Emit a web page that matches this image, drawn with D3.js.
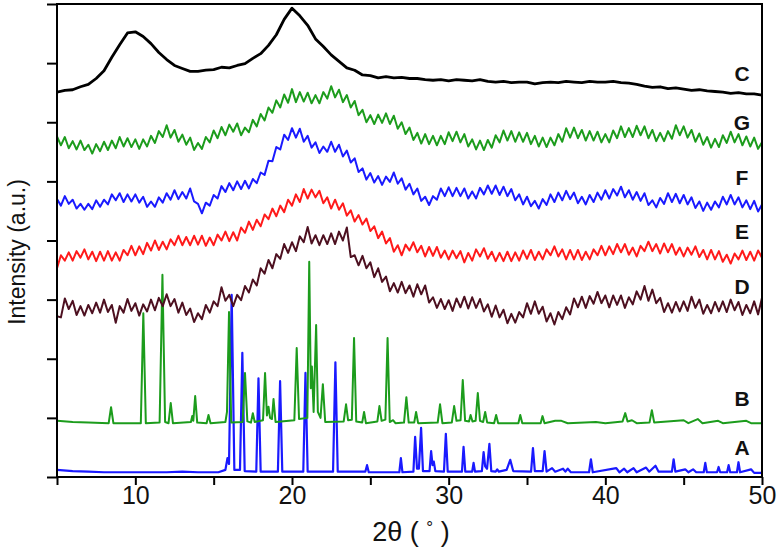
<!DOCTYPE html>
<html>
<head>
<meta charset="utf-8">
<script src="https://cdn.jsdelivr.net/npm/d3@7"></script>
<style>
  body { margin: 0; background: #fff; }
  svg text { font-family: "Liberation Sans", Arial, sans-serif; }
</style>
</head>
<body>
<svg id="chart" width="779" height="556"></svg>
<script>
// ---- data (offset intensities, arbitrary units) ----
const xTicks = [5, 10, 15, 20, 25, 30, 35, 40, 45, 50];
const xTickLabels = [10, 20, 30, 40, 50];
const yTicks = [0, 100, 200, 300, 400, 500, 600, 700, 800];

const scanStart = 5;      // 2θ of first sample
const scanStepC = 0.5;    // C scan step
const scanStep = 0.25;    // G, F, E, D scan step

const curveC = [651,654,655,660,664,674,687,710,731,751,753,745,733,718,706,696,691,686,686,688,
  689,693,692,696,699,708,716,730,748,774,793,780,764,741,728,714,703,692,688,680,
  679,675,677,675,676,674,674,672,671,672,670,672,671,670,672,669,668,669,667,668,
  668,665,667,668,667,669,668,667,669,668,668,669,667,666,664,661,659,660,657,658,
  656,654,655,653,652,651,649,650,648,648,646];

const curveG = [576,561,575,556,568,554,569,553,562,547,563,551,567,553,569,556,575,559,573,558,
  571,555,571,559,577,565,585,575,595,574,587,567,579,562,574,553,565,555,575,566,
  586,573,592,578,596,584,598,578,591,583,604,593,614,603,625,616,637,625,647,633,
  656,634,651,635,650,632,646,632,651,640,661,642,655,634,646,625,636,612,621,600,
  612,597,613,599,615,597,611,589,600,580,591,570,582,564,580,563,577,561,577,563,
  583,568,584,566,580,559,571,554,569,553,570,557,578,566,586,569,585,567,583,567,
  582,563,577,559,574,558,574,561,580,567,590,574,591,573,587,569,585,569,584,566,
  580,566,586,573,593,575,590,575,594,578,593,573,587,568,582,568,585,572,595,578,
  593,574,587,567,581,562,575,557,572,558,578,565,584,566,580,561,576,559,574,555,566];

const curveF = [470,459,475,462,469,454,462,452,462,453,468,457,469,461,478,468,480,465,478,466,
  478,464,474,457,466,457,473,464,480,469,485,470,482,471,488,466,462,446,464,459,
  477,471,492,482,497,485,500,487,501,488,504,497,515,511,535,534,558,554,579,570,
  590,574,589,567,577,557,566,548,559,550,567,550,562,542,552,532,539,516,522,503,
  514,498,509,494,508,499,515,496,505,486,496,478,488,467,474,460,475,469,488,475,
  490,475,489,475,488,471,483,471,489,478,493,479,493,477,491,475,487,468,478,461,
  474,458,467,454,470,460,478,465,481,468,484,470,481,463,474,461,477,465,481,469,
  485,471,487,476,491,473,485,469,482,467,480,460,468,456,472,462,480,465,479,463,
  477,461,473,455,466,450,464,452,466,456,474,461,477,461,473,456,468,453,467,449,461];

const curveE = [353,375,366,380,366,382,371,385,368,381,365,381,366,382,366,380,366,384,375,391,
  375,390,377,396,383,400,384,398,385,402,392,408,392,406,392,408,393,408,391,405,
  392,410,400,415,399,414,400,422,413,432,418,435,424,444,436,454,441,459,448,469,
  459,478,465,487,471,486,473,484,463,473,454,469,452,463,442,451,432,443,427,437,
  416,424,404,415,395,404,381,392,375,393,383,397,380,391,373,389,374,389,371,383,
  368,383,370,382,363,379,366,385,373,387,369,381,365,379,365,381,365,380,366,383,
  369,384,367,381,368,385,375,390,373,385,368,384,368,384,367,381,368,385,375,391,
  375,390,377,394,380,394,376,388,373,391,382,398,382,394,378,395,380,394,376,388,
  373,388,376,390,372,384,368,384,368,382,364,376,361,378,368,383,367,381,366,383,371];

const curveD = [272,270,302,284,298,274,289,273,291,277,295,278,300,279,291,261,289,278,301,281,
  294,273,292,280,300,282,303,289,309,289,301,278,295,274,285,262,277,267,291,278,
  297,289,321,298,308,289,308,299,323,312,334,324,353,344,367,353,377,369,394,379,
  397,382,407,397,423,395,409,392,409,394,412,394,415,400,422,372,375,358,374,353,
  363,338,353,330,339,314,328,312,330,311,324,305,326,309,324,295,304,286,301,284,
  299,281,302,287,305,285,304,286,301,280,292,271,290,270,283,260,276,261,279,270,
  294,276,297,276,288,263,277,258,279,267,287,275,302,287,305,286,306,293,313,294,
  307,287,307,291,307,286,304,292,314,300,323,298,317,294,303,279,294,278,296,280,
  297,281,305,286,300,276,291,277,296,280,297,279,300,282,296,274,291,277,297,275,303];

// crystalline patterns: [2θ, intensity]
const curveB = [[5,95],[6,93],[7,92],[8.3,91],[8.45,118],[8.6,91],[10.35,91],[10.51,277],[10.67,91],
  [11.55,92],[11.73,342],[11.9,93],[12.12,91],[12.26,125],[12.4,91],[13.55,93],[13.63,103],[13.7,95],
  [13.82,137],[13.95,92],[14.55,91],[14.67,105],[14.8,91],[15.75,93],[15.85,110],[15.98,279],[16.12,92],
  [16.85,93],[17.0,176],[17.15,94],[17.38,92],[17.5,108],[17.62,93],[18.15,96],[18.28,176],[18.4,104],
  [18.5,119],[18.6,100],[18.72,98],[18.82,132],[18.95,93],[20.15,96],[20.3,218],[20.45,98],[20.98,100],
  [21.1,364],[21.2,150],[21.27,187],[21.38,110],[21.54,257],[21.65,110],[21.82,100],[21.97,157],[22.12,93],
  [23.3,94],[23.45,123],[23.58,96],[23.82,97],[23.96,235],[24.1,94],[24.48,92],[24.6,110],[24.72,91],
  [25.45,94],[25.58,120],[25.72,95],[25.96,97],[26.1,235],[26.24,93],[26.45,96],[26.6,91],[27.15,92],
  [27.3,135],[27.45,92],[27.8,92],[27.92,110],[28.05,91],[29.3,92],[29.45,123],[29.6,91],[30.2,92],
  [30.35,120],[30.5,95],[30.76,96],[30.9,164],[31.05,95],[31.3,94],[31.4,105],[31.52,94],[31.72,95],
  [31.86,142],[32.0,95],[32.2,93],[32.33,110],[32.46,92],[32.9,91],[33.03,105],[33.16,91],[34.45,91],
  [34.57,105],[34.7,91],[35.87,91],[35.99,103],[36.12,91],[36.8,95],[37.2,95],[37.6,91],[39.4,93],
  [40.0,91],[41.1,94],[41.27,108],[41.42,94],[41.7,96],[42.0,91],[42.82,92],[42.97,113],[43.12,92],
  [45.0,96],[45.3,91],[45.9,98],[46.2,91],[47.2,95],[47.5,91],[49.0,95],[49.3,91],[50,91]];

const curveA = [[5,12],[6,10],[7,9],[8,8],[9,8],[10,8],[11,8],[12,8],[13,9],[14,8],[15.3,8],[15.75,12],
  [15.88,32],[15.98,22],[16.15,308],[16.32,12],[16.68,12],[16.83,210],[16.98,10],[17.72,9],[17.86,167],
  [18.0,9],[19.1,9],[19.24,162],[19.38,9],[20.72,9],[20.86,176],[21.0,9],[22.62,9],[22.77,194],[22.92,9],
  [24.68,9],[24.79,20],[24.9,8],[26.85,8],[26.95,32],[27.05,8],[27.75,9],[27.86,68],[27.98,14],[28.1,14],
  [28.24,83],[28.36,10],[28.78,10],[28.88,44],[28.97,20],[29.05,26],[29.15,10],[29.7,9],[29.82,73],
  [29.94,9],[30.85,9],[30.95,51],[31.06,9],[31.5,9],[31.59,24],[31.68,9],[32.12,10],[32.23,42],[32.33,18],
  [32.45,14],[32.6,56],[32.72,10],[33.0,9],[33.1,13],[33.2,9],[33.7,12],[33.93,29],[34.12,10],[35.26,9],
  [35.38,49],[35.5,10],[36.0,10],[36.12,44],[36.25,9],[36.6,15],[36.8,9],[37.3,14],[37.45,9],[37.6,14],
  [37.8,8],[38.96,8],[39.08,30],[39.2,8],[40.7,15],[40.9,8],[41.2,14],[41.4,8],[41.8,15],[42.0,8],
  [42.6,16],[42.8,9],[43.2,19],[43.4,9],[44.25,9],[44.36,30],[44.47,9],[45.1,13],[45.3,8],[45.6,13],
  [45.8,8],[46.28,8],[46.38,24],[46.48,8],[47.13,8],[47.23,17],[47.33,8],[47.77,8],[47.87,20],[47.97,8],
  [48.4,8],[48.5,25],[48.6,8],[49.3,13],[49.5,7],[50,7]];

const seriesNames = ['C', 'G', 'F', 'E', 'D', 'B', 'A'];

// ---- layout / style ----
const W = 779, H = 556;
const plotLeft = 57, plotRight = 762, plotTop = 4, plotBottom = 477;

const toPairs = (arr, step) => arr.map((v, i) => [scanStart + i * step, v]);

// dy = label offset (px) above the trace's last point
const series = [
  {name: seriesNames[0], pts: toPairs(curveC, scanStepC), color: '#000000', width: 2.8, dy: -22},
  {name: seriesNames[1], pts: toPairs(curveG, scanStep), color: '#1c9c1c', width: 2, dy: -20},
  {name: seriesNames[2], pts: toPairs(curveF, scanStep), color: '#1a1aff', width: 2, dy: -27},
  {name: seriesNames[3], pts: toPairs(curveE, scanStep), color: '#ff1a1a', width: 2, dy: -26},
  {name: seriesNames[4], pts: toPairs(curveD, scanStep), color: '#4d1020', width: 2, dy: -11},
  {name: seriesNames[5], pts: curveB, color: '#1c9c1c', width: 2, dy: -25},
  {name: seriesNames[6], pts: curveA, color: '#1a1aff', width: 2.2, dy: -25}
];

const xScale = d3.scaleLinear().domain([5, 50]).range([plotLeft, plotRight]);
const yScale = d3.scaleLinear().domain([0, 800]).range([plotBottom, plotTop]);

const svg = d3.select('#chart');

svg.append('defs').append('clipPath').attr('id', 'plot').
append('rect').attr('x', plotLeft).attr('y', plotTop).
attr('width', plotRight - plotLeft).attr('height', plotBottom - plotTop);

const line = d3.line().x(d => xScale(d[0])).y(d => yScale(d[1]));

const g = svg.append('g').attr('clip-path', 'url(#plot)');

// draw bottom-most first so the amorphous traces sit on top
series.slice().reverse().forEach(s => {
  g.append('path').
  datum(s.pts).
  attr('d', line).
  attr('fill', 'none').
  attr('stroke', s.color).
  attr('stroke-width', s.width).
  attr('stroke-linejoin', 'round');
});

// axes
const xAxis = d3.axisBottom(xScale).tickValues(xTicks).tickSize(8).tickSizeOuter(0).
tickFormat(d => xTickLabels.includes(d) ? d : '');
const xg = svg.append('g').attr('transform', 'translate(0,' + plotBottom + ')').call(xAxis);
xg.select('.domain').remove();
xg.selectAll('line').attr('stroke', '#000').attr('stroke-width', 2);
xg.selectAll('text').attr('fill', '#111').style('font-size', '25px').attr('y', 9);

const yAxis = d3.axisLeft(yScale).tickValues(yTicks).tickSize(10).tickSizeOuter(0).tickFormat('');
const yg = svg.append('g').attr('transform', 'translate(' + plotLeft + ',0)').call(yAxis);
yg.select('.domain').remove();
yg.selectAll('line').attr('stroke', '#000').attr('stroke-width', 2);

svg.append('rect').
attr('x', plotLeft).attr('y', plotTop).
attr('width', plotRight - plotLeft).attr('height', plotBottom - plotTop).
attr('fill', 'none').attr('stroke', '#000').attr('stroke-width', 2);

// series labels
series.forEach(s => {
  const last = s.pts[s.pts.length - 1];
  svg.append('text').
  attr('x', 742).
  attr('y', yScale(last[1]) + s.dy).
  attr('text-anchor', 'middle').
  attr('dominant-baseline', 'central').
  style('font-size', '21px').
  style('font-weight', 'bold').
  attr('fill', '#111').
  text(s.name);
});

// axis titles
const xt = svg.append('text').
attr('x', 411).attr('y', 541).
attr('text-anchor', 'middle').
style('font-size', '27px').
attr('fill', '#111');
xt.append('tspan').text('2θ ( ');
xt.append('tspan').attr('dy', -8).style('font-size', '17px').text('°');
xt.append('tspan').attr('dy', 8).text(' )');

svg.append('text').
attr('transform', 'translate(25,252) rotate(-90)').
attr('text-anchor', 'middle').
style('font-size', '23px').
attr('fill', '#111').
text('Intensity (a.u.)');
</script>
</body>
</html>
